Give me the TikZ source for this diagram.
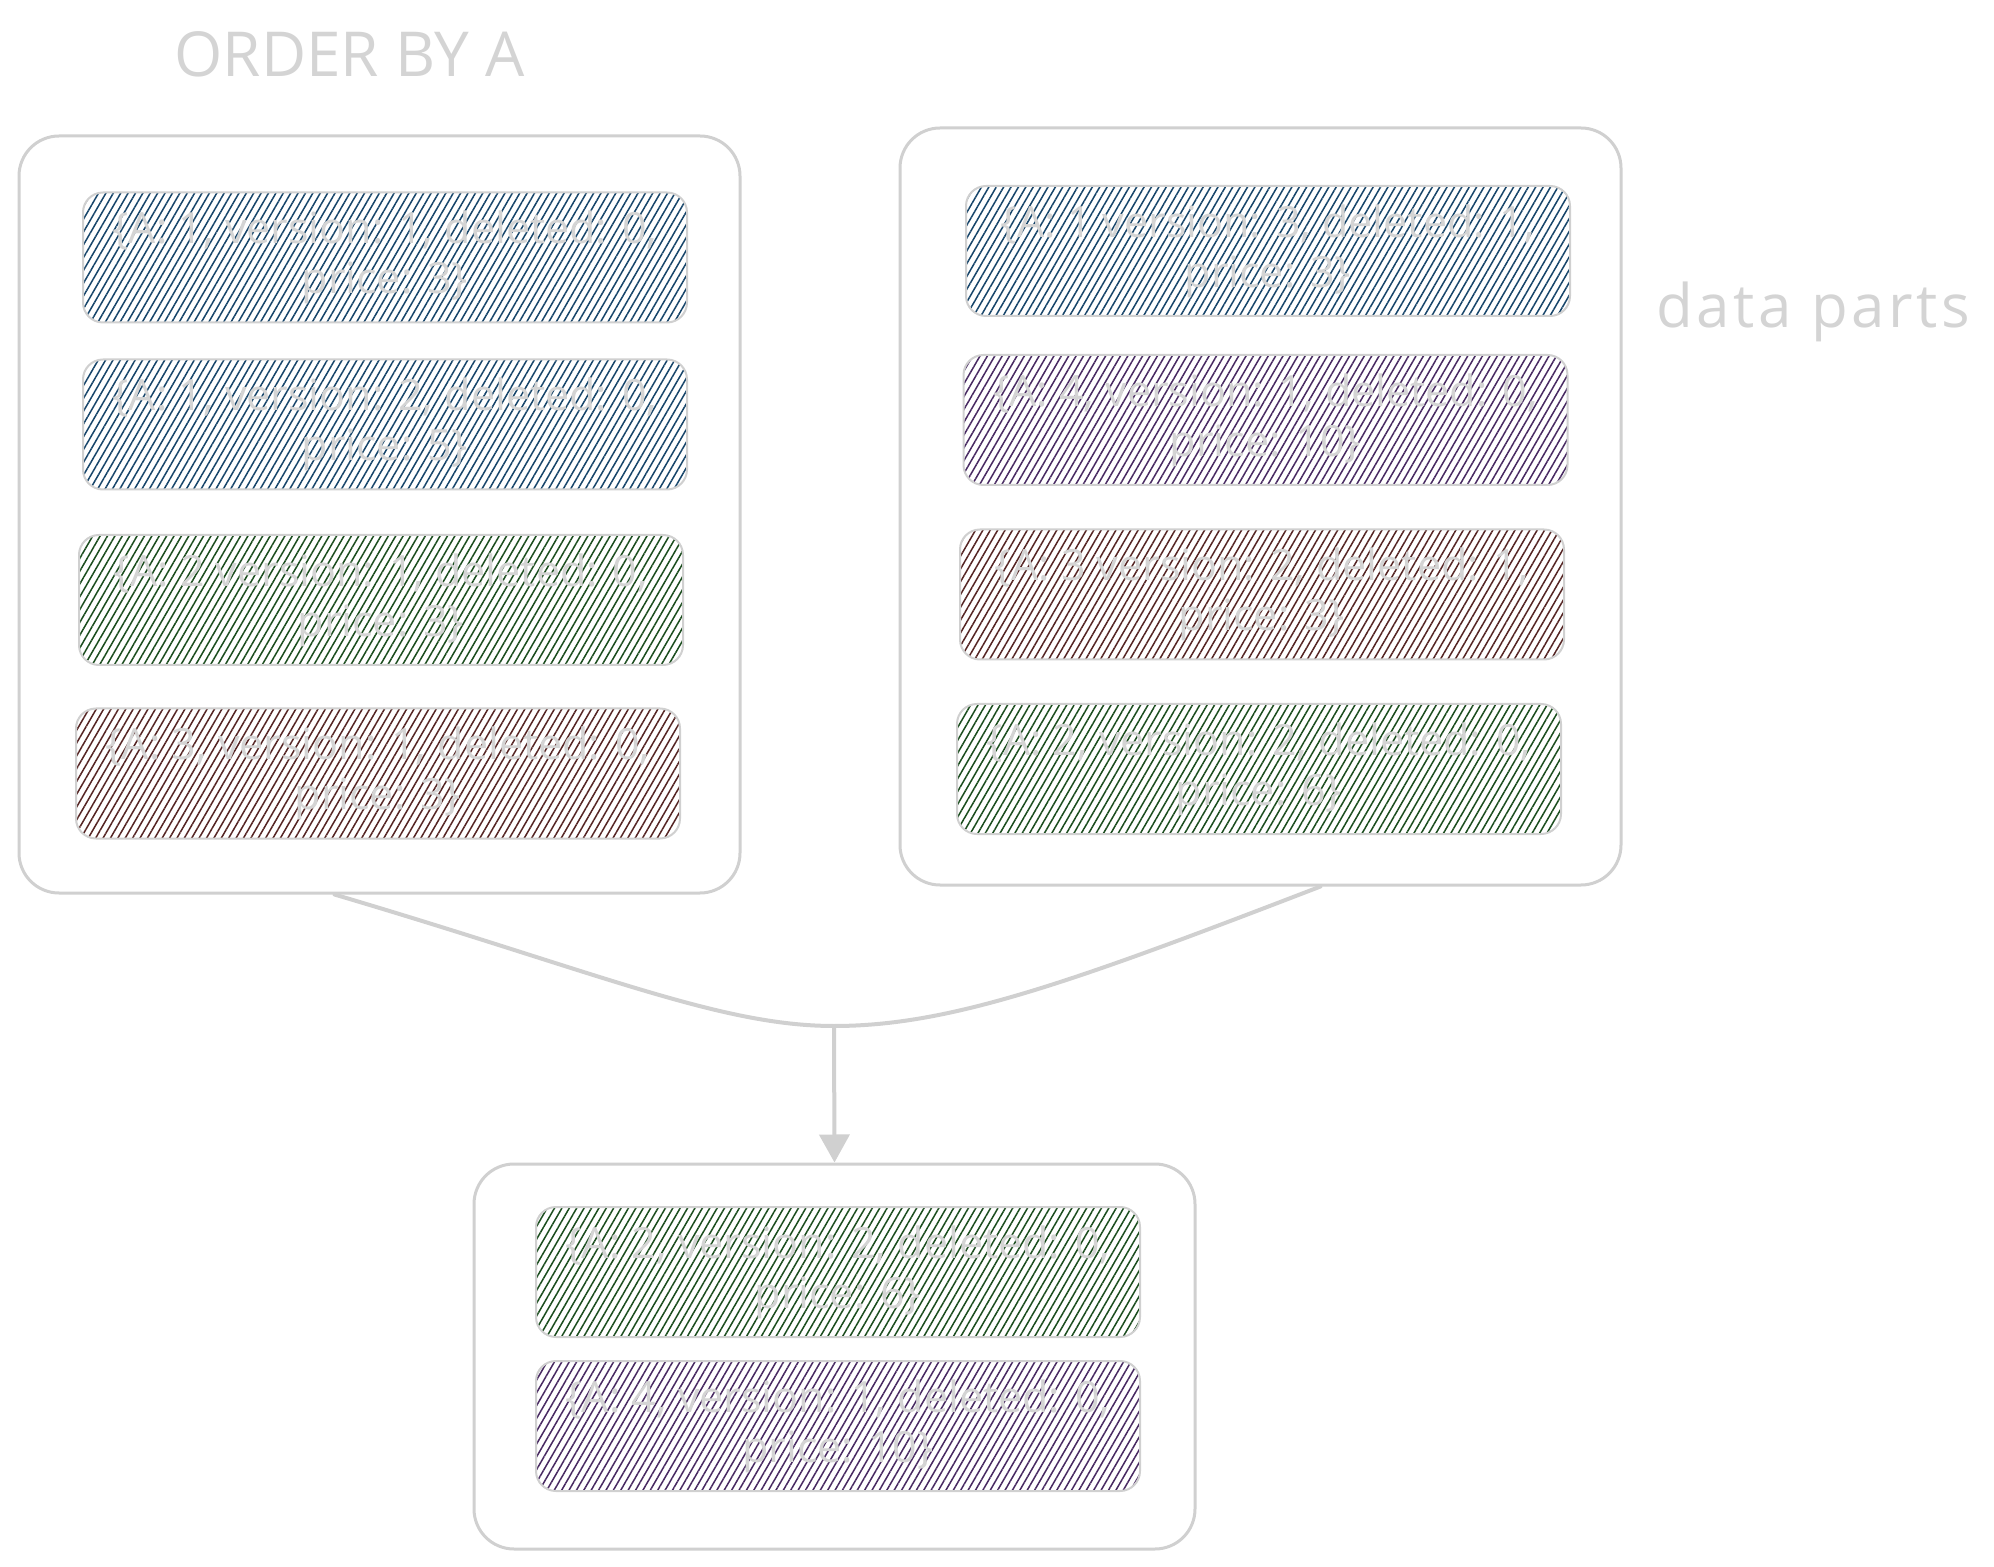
\documentclass[tikz,border=0pt]{standalone}
\usepackage{fontspec}
\setmainfont{Open Sans}
\usetikzlibrary{patterns.meta,arrows.meta,calc}
\definecolor{lgray}{HTML}{D0D0D0}
\definecolor{txtgray}{HTML}{D4D4D4}
\definecolor{hblue}{HTML}{17456A}
\definecolor{hgreen}{HTML}{1B4D1E}
\definecolor{hbrown}{HTML}{552524}
\definecolor{hpurple}{HTML}{482A62}
\tikzset{
  container/.style={draw=lgray, line width=1.5pt, rounded corners=20pt, minimum width=360.5pt, fill=white},
  rowbox/.style={draw=lgray, line width=1pt, rounded corners=10pt, minimum width=302pt, minimum height=65pt,
    pattern={Lines[angle=60,distance=3.2pt,line width=0.75pt]}, pattern color=#1,
    text=txtgray, font=\fontsize{21.5}{25}\selectfont, align=center, inner sep=0pt},
  conn/.style={draw=lgray, line width=2pt, line cap=round},
  label/.style={text=txtgray, anchor=west, inner sep=0pt}
}
\begin{document}
\begin{tikzpicture}[x=0.5pt,y=-0.5pt]
\useasboundingbox (0,0) rectangle (1994,1567);
% containers
\node[container, minimum height=378.5pt] (lc) at (379.5,514.5) {};
\node[container, minimum height=378.5pt] (rc) at (1260.5,506.5) {};
\node[container, minimum height=192.5pt] (bc) at (834.5,1356.5) {};
% left rows
\node[rowbox=hblue] (l1) at (385,257.5) {\{A: 1, version: 1, deleted: 0,\\ price: 3\}};
\node[rowbox=hblue] (l2) at (385,424.5) {\{A: 1, version: 2, deleted: 0,\\ price: 5\}};
\node[rowbox=hgreen] (l3) at (381,600) {\{A: 2 version: 1, deleted: 0,\\ price: 3\}};
\node[rowbox=hbrown] (l4) at (378,773.5) {\{A: 3, version: 1, deleted: 0,\\ price: 3\}};
% right rows
\node[rowbox=hblue] (r1) at (1268,251) {\{A: 1 version: 3, deleted: 1,\\ price: 3\}};
\node[rowbox=hpurple] (r2) at (1265.5,420) {\{A: 4, version: 1, deleted: 0,\\ price: 10\}};
\node[rowbox=hbrown] (r3) at (1262,594.5) {\{A: 3 version: 2, deleted: 1,\\ price: 3\}};
\node[rowbox=hgreen] (r4) at (1259,769) {\{A: 2, version: 2, deleted: 0,\\ price: 6\}};
% bottom rows
\node[rowbox=hgreen] (b1) at (838,1272) {\{A: 2, version: 2, deleted: 0,\\ price: 6\}};
\node[rowbox=hpurple] (b2) at (838,1426) {\{A: 4, version: 1, deleted: 0,\\ price: 10\}};
% labels
\node[label, font=\fontsize{31}{34}\selectfont] (order) at (174,54) {ORDER BY A};
\node[label, font=\fontsize{30}{34}\selectfont\addfontfeatures{LetterSpace=6}] (parts) at (1656,312) {data parts};
% merge connectors
\coordinate (m) at (834,1026);
\draw[conn] ([xshift=-22.5pt]lc.south) .. controls (600,973) and (720,1026) .. (m);
\draw[conn] ([xshift=30pt]rc.south) .. controls (1070,983) and (950,1026) .. (m);
\draw[conn, -{Triangle[length=14pt,width=15pt]}] (m) -- (bc.north);
\end{tikzpicture}
\end{document}
